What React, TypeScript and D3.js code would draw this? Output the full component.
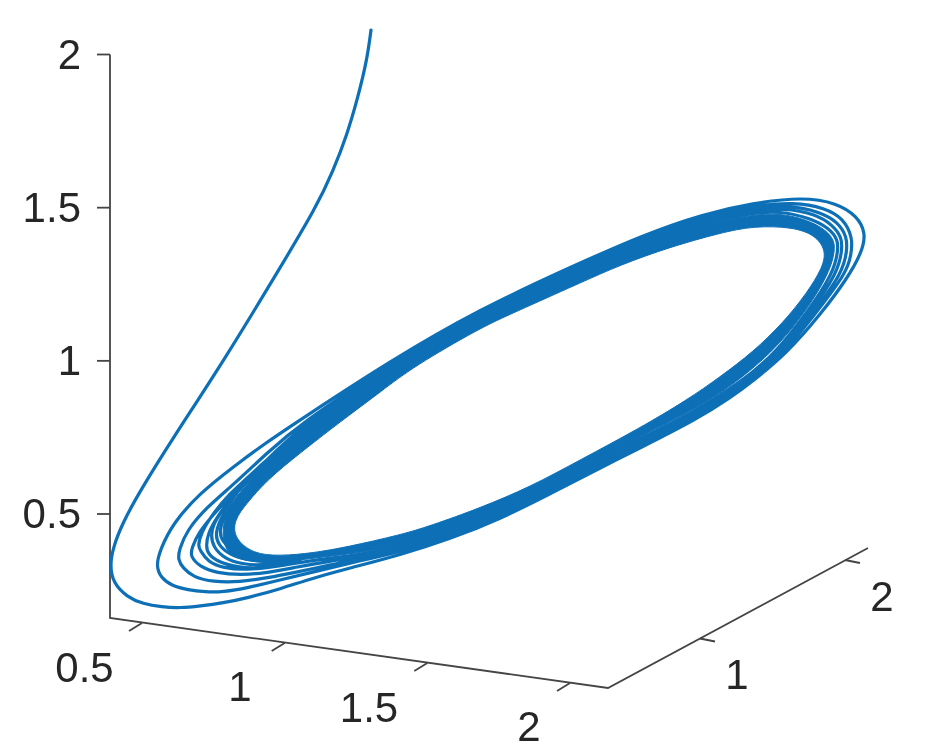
import React from "react";
import * as d3 from "d3";

type P = [number, number];

const entryCurve: P[] = [
  [261,588],[257,558],[248,521],[237,483],[223,447],[207,412],[167,345],[113,256],[63,180],[30,127],[12,94],[3,70],[0,53],
  [3,35],[17,21],[33,14],[52,11],
];
const loopA: P[] = [
  [70,10],[90,12],[113,15],[137,20],[170,29],[203,40],[240,50],[290,63],[340,79],[390,99],[440,124],[490,150],[530,170],[587,199],[620,220],[643,237],[677,265],[710,303],[737,339],[752,366],[756,385],[747,402],[727,415],[693,421],[643,415],[593,404],[533,383],[463,352],[370,309],[280,257],[190,198],[157,176],[123,151],[90,125],[63,95],[50,68],[46,52],
];
const loopB: P[] = [
  [51,40],[62,32],[78,28],[95,26],[113,26],[137,30],[170,38],[203,46],[240,55],[290,66],[340,82],[390,102],[440,127],[490,153],[530,173],[587,202],[620,223],[643,240],[674,265],[706,305],[737,346],[741,363],[743,380],[733,400],[715,410],[685,416],[640,412],[593,401],[533,380],[463,349],[370,306],[280,254],[190,194],[157,165],[123,133],[97,111],[77,88],[69,68],[68,58],
];
const loopC: P[] = [
  [73,50],[83,41],[103,36],[130,36],[157,40],[187,46],[220,53],[250,59],[290,68.5],[340,84.5],[390,104.5],[440,129.5],[490,155.5],[530,175.5],[587,204.5],[620,225.5],[643,242.5],[671,265],[703,305],[733,346],[737,368],[737,381],[728,396],[710,406],[680,413],[640,410],[593,399],[533,378],[463,347],[370,304],[280,252],[190,191],[157,158],[130,131],[107,108],[88,85],[82,70],[80,62],
];
const loopD: P[] = [
  [90,51],[107,45],[130,43],[157,45],[187,51],[220,57],[250,61],[290,70.5],[340,86.5],[390,106.5],[440,131.5],[490,157.5],[530,177.5],[587,206.5],[620,227.5],[643,244.5],[668,265],[700,305],[728,346],[732,368],[732,380],[723,393],[705,404],[675,410],[640,407],[593,397],[533,376],[463,345],[370,302],[280,250],[190,189],[146,148],[118,123],[102,103],[91,85],[88,72],
];
const loopE: P[] = [
  [90,68],[98,56],[113,50],[137,48],[163,51],[203,58],[250,63],[290,72],[340,88],[390,108],[440,133],[490,159],[530,179],[587,208],[620,229],[643,246],[665,265],[697,305],[724,346],[728,368],[728,378],[719,390],[700,400],[670,407],[640,405],[593,395],[533,374],[463,343],[370,300],[280,248],[190,187],[148,147],[122,121],[107,101],[98,85],[96,72],
];
const tipF: P[] = [[98,64],[108,56],[127,51],[150,49],[190,58]];
const tipG: P[] = [[140,142],[112,108],[103,93],[101,83],[103,71],[115,59],[132,54],[153,52],[190,60]];
const tipH: P[] = [[130,130],[112,103],[105,85],[108,73],[120,63],[137,58],[160,56]];
const tipI: P[] = [[130,123],[115,103],[109,88],[112,76],[125,66],[145,60]];

// Outline of the densely wound part of the band.
const denseOuter: P[] = [
  [112,98],[113,65],[137,56],[170,55],[203,60],[250,65],[290,73],[340,89],[390,109],[440,134],[490,160],[530,181],[587,210],[620,231],[662,265],[695,305],[720,346],[725,368],[724,378],[716,388],[698,398],[670,405],[640,403],[593,394],[533,373],[463,342],[370,299],[280,247],[190,186],[150,148],[125,121],
];
const denseInner: P[] = [
  [124,98],[124,80],[143,64],[170,62],[203,65],[237,71],[290,83],[320,92],[370,110],[420,131],[470,158],[530,190],[577,218],[610,241],[643,266],[673,295],[697,325],[713,351],[716,368],[705,383],[683,391],[643,392],[610,385],[560,371],[510,353],[470,335],[403,305],[370,290],[303,251],[273,228],[230,196],[190,165],[157,138],[137,115],
];

const trajectory: P[] = [...entryCurve, ...loopA, ...loopB, ...loopC, ...loopD, ...loopE, ...tipF];
const tips: P[][] = [tipG, tipH, tipI];

const zTicks = [0.5, 1, 1.5, 2];
const zTickLabels = ["0.5", "1", "1.5", "2"];
const xTicks = [0.5, 1, 1.5, 2];
const xTickLabels = ["0.5", "1", "1.5", "2"];
const yTicks = [1, 2];
const yTickLabels = ["1", "2"];

const LINE = "#0a6fb7";
const AXIS = "#444444";
const TEXT = "#262626";
const FONT = "'Liberation Sans', Arial, sans-serif";

export default function App() {
  const planeX = d3.scaleLinear().domain([0, 500]).range([110, 610]);
  const planeZ = d3.scaleLinear().domain([0, 563]).range([618, 55]);
  const zPx = d3.scaleLinear().domain([0.5, 2]).range([514, 54.5]);
  const xAxisX = d3.scaleLinear().domain([0.5, 2]).range([142, 570]);
  const xAxisY = d3.scaleLinear().domain([0.5, 2]).range([623, 683]);
  const yAxisX = d3.scaleLinear().domain([1, 2]).range([700, 845]);
  const yAxisY = d3.scaleLinear().domain([1, 2]).range([638.5, 560]);

  const line = d3.line<P>().x((d) => planeX(d[0])).y((d) => planeZ(d[1])).curve(d3.curveBasis);
  const closed = d3.line<P>().x((d) => planeX(d[0])).y((d) => planeZ(d[1])).curve(d3.curveBasisClosed);

  const textProps = { fontFamily: FONT, fontSize: 42, fill: TEXT };
  const xLabelPos: P[] = [[84.5, 682], [240, 701], [369, 722], [529, 741]];
  const yLabelPos: P[] = [[737, 689], [882, 611]];

  return (
    <svg width={925} height={756} style={{ position: "absolute", left: 0, top: 0, background: "#fff" }}>
      <defs>
        <filter id="soft" x="-5%" y="-5%" width="110%" height="110%">
          <feGaussianBlur stdDeviation={0.55} />
        </filter>
      </defs>
      <g filter="url(#soft)">
        <g stroke={AXIS} strokeWidth={1.8} fill="none">
          <path d="M110,54.5 L110,618 L608,688 L868,548" />
          {zTicks.map((t) => (
            <line key={t} x1={110} x2={97} y1={zPx(t)} y2={zPx(t)} />
          ))}
          {xTicks.map((t) => (
            <line key={t} x1={xAxisX(t)} y1={xAxisY(t)} x2={xAxisX(t) - 13} y2={xAxisY(t) + 8} />
          ))}
          {yTicks.map((t) => (
            <line key={t} x1={yAxisX(t)} y1={yAxisY(t)} x2={yAxisX(t) + 15} y2={yAxisY(t) + 3} />
          ))}
        </g>
        <path d={`${closed(denseOuter)}${closed(denseInner)}`} fill={LINE} fillRule="evenodd" stroke={LINE} strokeWidth={1} />
        <path d={line(trajectory) ?? ""} fill="none" stroke={LINE} strokeWidth={3.2} strokeLinecap="round" />
        {tips.map((l, i) => (
          <path key={i} d={line(l) ?? ""} fill="none" stroke={LINE} strokeWidth={3.2} strokeLinecap="round" />
        ))}
        {zTicks.map((t, i) => (
          <text key={t} x={81} y={zPx(t) + 14} textAnchor="end" {...textProps}>{zTickLabels[i]}</text>
        ))}
        {xTicks.map((t, i) => (
          <text key={t} x={xLabelPos[i][0]} y={xLabelPos[i][1]} textAnchor="middle" {...textProps}>{xTickLabels[i]}</text>
        ))}
        {yTicks.map((t, i) => (
          <text key={t} x={yLabelPos[i][0]} y={yLabelPos[i][1]} textAnchor="middle" {...textProps}>{yTickLabels[i]}</text>
        ))}
      </g>
    </svg>
  );
}
